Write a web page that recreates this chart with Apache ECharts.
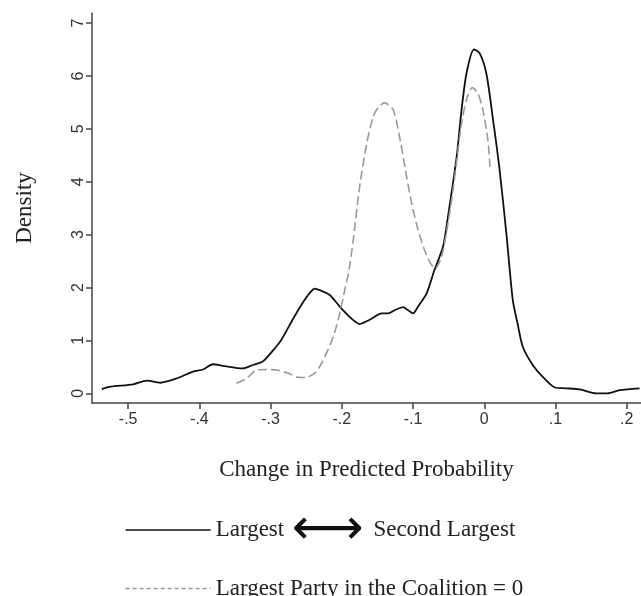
<!DOCTYPE html>
<html>
<head>
<meta charset="utf-8">
<script src="https://cdn.jsdelivr.net/npm/echarts@6/dist/echarts.min.js"></script>
<style>
  html, body { margin: 0; padding: 0; background: #fff; }
  #main { width: 641px; height: 596px; }
</style>
</head>
<body>
<div id="main"></div>
<script>
var chartDom = document.getElementById('main');
var myChart = echarts.init(chartDom);
var option;

// tick positions
var xTicks = [-0.5, -0.4, -0.3, -0.2, -0.1, 0, 0.1, 0.2];
var yTicks = [0, 1, 2, 3, 4, 5, 6, 7];

// Largest <-> Second Largest (solid)
var solidX = [-0.537, -0.525, -0.493, -0.474, -0.455, -0.432, -0.409, -0.395, -0.381, -0.367,
  -0.339, -0.325, -0.311, -0.296, -0.285, -0.268, -0.254, -0.245, -0.238, -0.231, -0.217,
  -0.203, -0.187, -0.175, -0.161, -0.144, -0.135, -0.126, -0.114, -0.107, -0.100, -0.093,
  -0.081, -0.070, -0.058, -0.051, -0.039, -0.032, -0.025, -0.0146, -0.0066, 0.0028, 0.012,
  0.021, 0.031, 0.040, 0.047, 0.054, 0.068, 0.082, 0.099, 0.115, 0.134, 0.157, 0.173, 0.190, 0.218];
var solidY = [0.08, 0.125, 0.17, 0.24, 0.2, 0.28, 0.41, 0.45, 0.55, 0.52,
  0.47, 0.535, 0.6, 0.82, 1.01, 1.42, 1.73, 1.9, 1.98, 1.95, 1.86,
  1.64, 1.42, 1.31, 1.39, 1.51, 1.51, 1.57, 1.63, 1.57, 1.51, 1.64,
  1.89, 2.33, 2.77, 3.34, 4.45, 5.35, 6.05, 6.50, 6.43, 6.05, 5.2,
  4.28, 3.02, 1.76, 1.3, 0.88, 0.535, 0.31, 0.11, 0.095, 0.075, 0.0, 0.0, 0.06, 0.095];

// Largest Party in the Coalition = 0 (dashed)
var dashX = [-0.348, -0.334, -0.320, -0.306, -0.292, -0.275, -0.264, -0.250, -0.236, -0.224,
  -0.212, -0.203, -0.196, -0.190, -0.184, -0.175, -0.165, -0.156, -0.148, -0.140, -0.128,
  -0.119, -0.109, -0.102, -0.093, -0.084, -0.076, -0.069, -0.060, -0.051, -0.044, -0.038,
  -0.032, -0.025, -0.017, -0.009, -0.002, 0.005, 0.008];
var dashY = [0.19, 0.28, 0.44, 0.45, 0.44, 0.38, 0.31, 0.30, 0.41, 0.69,
  1.07, 1.51, 1.95, 2.33, 2.90, 3.91, 4.73, 5.23, 5.42, 5.49, 5.36,
  4.85, 4.09, 3.59, 3.09, 2.71, 2.47, 2.36, 2.58, 3.21, 3.84, 4.47,
  5.1, 5.55, 5.78, 5.67, 5.36, 4.79, 4.28];

var seriesNames = ['Largest ⟷ Second Largest', 'Largest Party in the Coalition = 0'];

function pairs(xs, ys) {
  return xs.map(function (x, i) { return [x, ys[i]]; });
}

function tickFmt(v) {
  if (Math.abs(v) < 1e-9) return '0';
  return v.toFixed(1).replace('0.', '.');
}

function legendFor(name, top, dash) {
  return {
    orient: 'horizontal',
    left: 120,
    top: top,
    itemWidth: 85,
    itemHeight: 14,
    itemGap: 0,
    selectedMode: false,
    itemStyle: { color: 'rgba(0,0,0,0)', borderWidth: 0, opacity: 0 },
    lineStyle: { width: 1.3, type: dash },
    formatter: function (n) {
      if (n === seriesNames[0]) {
        return '{t|Largest }{a|⟷}{t| Second Largest}';
      }
      return '{t|' + n + '}';
    },
    textStyle: {
      color: '#222',
      rich: {
        t: { fontFamily: 'Liberation Serif', fontSize: 23, color: '#222', lineHeight: 26, verticalAlign: 'middle' },
        a: { fontFamily: 'DejaVu Sans', fontSize: 50, color: '#111', lineHeight: 26, verticalAlign: 'middle', padding: [2, 4, 0, 2] }
      }
    },
    data: [name]
  };
}

option = {
  animation: false,
  backgroundColor: '#fff',
  grid: {
    left: 92,
    right: 0,
    top: 13,
    bottom: 193,
    containLabel: false,
    outerBoundsMode: 'none'
  },
  legend: [legendFor(seriesNames[0], 499, 'solid'), legendFor(seriesNames[1], 572, [4, 3])],
  xAxis: {
    type: 'value',
    min: -0.5508,
    max: 0.22,
    name: 'Change in Predicted Probability',
    nameLocation: 'middle',
    nameGap: 55,
    nameTextStyle: { fontFamily: 'Liberation Serif', fontSize: 23, color: '#222' },
    axisLine: { onZero: false, lineStyle: { color: '#444', width: 1.5 } },
    axisTick: { show: true, length: 6, customValues: xTicks, lineStyle: { color: '#444', width: 1.5 } },
    axisLabel: {
      customValues: xTicks,
      formatter: tickFmt,
      margin: 9,
      fontFamily: 'Liberation Sans',
      fontSize: 16,
      color: '#333'
    },
    splitLine: { show: false }
  },
  yAxis: {
    type: 'value',
    min: -0.183,
    max: 7.19,
    name: 'Density',
    nameLocation: 'middle',
    nameRotate: 90,
    nameGap: 56,
    nameTextStyle: { fontFamily: 'Liberation Serif', fontSize: 23, color: '#222' },
    axisLine: { show: true, onZero: false, lineStyle: { color: '#444', width: 1.5 } },
    axisTick: { show: true, length: 6, customValues: yTicks, lineStyle: { color: '#444', width: 1.5 } },
    axisLabel: {
      customValues: yTicks,
      rotate: 90,
      margin: 5,
      fontFamily: 'Liberation Sans',
      fontSize: 16,
      color: '#333'
    },
    splitLine: { show: false }
  },
  series: [
    {
      name: seriesNames[0],
      type: 'line',
      showSymbol: false,
      symbol: 'none',
      smooth: 0.25,
      itemStyle: { color: '#111' },
      lineStyle: { color: '#111', width: 1.8 },
      data: pairs(solidX, solidY)
    },
    {
      name: seriesNames[1],
      type: 'line',
      showSymbol: false,
      symbol: 'none',
      smooth: 0.25,
      itemStyle: { color: '#999' },
      lineStyle: { color: '#999', width: 1.6, type: [9, 4] },
      data: pairs(dashX, dashY)
    }
  ]
};

option && myChart.setOption(option);
</script>
</body>
</html>
